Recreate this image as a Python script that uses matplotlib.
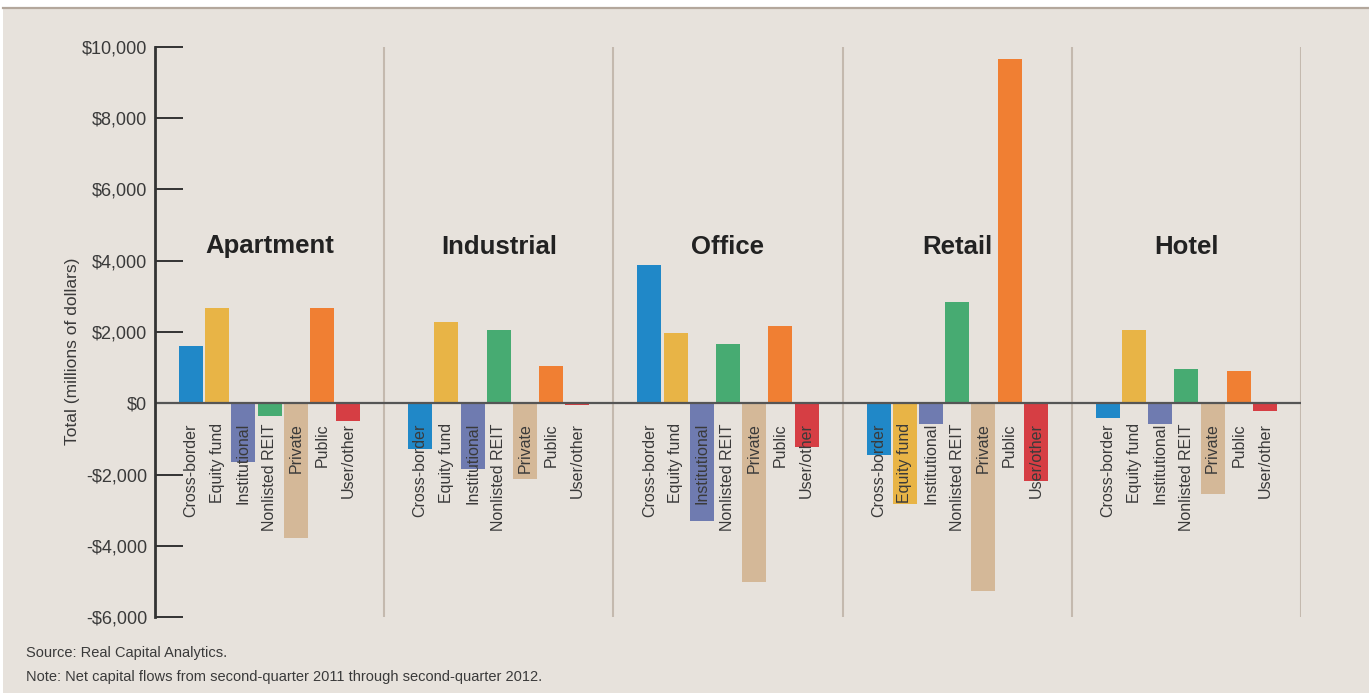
import numpy as np
import matplotlib.pyplot as plt
from matplotlib import font_manager

# ---------------------------
# Data (millions of dollars)
# ---------------------------
sectors = ["Apartment", "Industrial", "Office", "Retail", "Hotel"]
buyers = ["Cross-border", "Equity fund", "Institutional", "Nonlisted REIT",
          "Private", "Public", "User/other"]

apartment = [1600, 2660, -1640, -355, -3770, 2660, -495]
industrial = [-1280, 2270, -1840, 2070, -2120, 1040, -50]
office = [3870, 1960, -3300, 1650, -5030, 2160, -1220]
retail = [-1450, -2820, -580, 2850, -5280, 9670, -2180]
hotel = [-410, 2045, -580, 950, -2540, 900, -225]

values = [apartment, industrial, office, retail, hotel]

yticks = [-6000, -4000, -2000, 0, 2000, 4000, 6000, 8000, 10000]

colors = ["#2088c8", "#e8b446", "#6f7bb0", "#47ab72",
          "#d4b898", "#f07f33", "#d63e44"]

# narrow font if present
names = {f.name for f in font_manager.fontManager.ttflist}
narrow = "Liberation Sans Narrow" if "Liberation Sans Narrow" in names else "Liberation Sans"
plt.rcParams["font.family"] = [narrow, "DejaVu Sans"]

bg = "#e7e2dc"
txt = "#3a3a3a"

W, H = 1369, 693
fig = plt.figure(figsize=(W / 100, H / 100), dpi=100)
fig.patch.set_facecolor("white")

# beige panel with top rule
fig.patches.append(plt.Rectangle((3 / W, 0), 1, 1 - 8 / H, transform=fig.transFigure,
                                 facecolor=bg, edgecolor="none", zorder=-5))
fig.add_artist(plt.Line2D([3 / W, 1], [1 - 7.5 / H, 1 - 7.5 / H], transform=fig.transFigure,
                          color="#b3a79c", lw=1.6))

ax_l, ax_r, ax_t, ax_b = 155, 1301, 47, 617
ax = fig.add_axes([ax_l / W, 1 - ax_b / H, (ax_r - ax_l) / W, (ax_b - ax_t) / H])
ax.set_facecolor("none")
ax.set_zorder(2)

gw = 8.75       # group width in bar steps
bw = 0.92       # bar width
ax.set_xlim(0, 5 * gw)
ax.set_ylim(-6000, 10000)

for i, (sec, vals) in enumerate(zip(sectors, values)):
    c = gw / 2 + i * gw
    xs = c + np.arange(7) - 3
    ax.bar(xs, vals, width=bw, color=colors, zorder=2)
    for x, lab in zip(xs, buyers):
        ax.text(x, -560, lab, rotation=90, ha="center", va="top",
                fontsize=11.5, color=txt, zorder=3)
    ax.text(c, 4400, sec, ha="center", va="center", fontsize=18.5,
            fontweight="bold", color="#222222")
    ax.axvline((i + 1) * gw, ymin=0, ymax=1, color="#c4b9ae", lw=1.5, zorder=1)

ax.axhline(0, color="#555555", lw=1.6, zorder=2.5)

for s in ["top", "right", "bottom"]:
    ax.spines[s].set_visible(False)
ax.spines["left"].set_color("#333333")
ax.spines["left"].set_linewidth(2)

ax.set_xticks([])
ax.set_yticks(yticks)
ax.set_yticklabels([("-$" if v < 0 else "$") + f"{abs(v):,}" for v in yticks])
ax.tick_params(axis="y", direction="in", length=20, width=1.4, color="#333333",
               labelsize=13, labelcolor=txt, pad=5.5)

fig.text(73 / W, 1 - 351 / H, "Total (millions of dollars)", rotation=90,
         ha="center", va="center", fontsize=12.5, color=txt)

fig.text(26 / W, 1 - 653 / H, "Source: Real Capital Analytics.",
         ha="left", va="center", fontsize=10.5, color=txt)
fig.text(26 / W, 1 - 677 / H,
         "Note: Net capital flows from second-quarter 2011 through second-quarter 2012.",
         ha="left", va="center", fontsize=10.5, color=txt)

fig.savefig("out.png", dpi=100, facecolor=fig.get_facecolor())
